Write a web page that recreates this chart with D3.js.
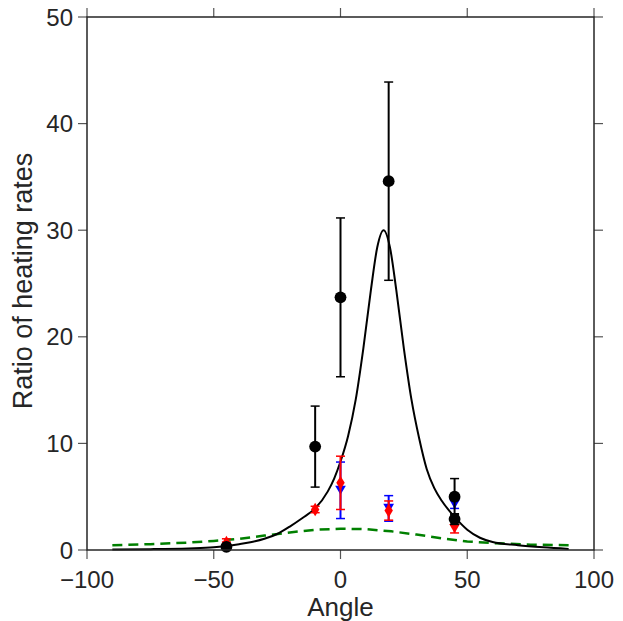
<!DOCTYPE html>
<html>
<head>
<meta charset="utf-8">
<script src="https://cdn.jsdelivr.net/npm/d3@7"></script>
<style>
  body { margin: 0; background: #fff; }
  svg { display: block; }
</style>
</head>
<body>
<div id="chart"></div>
<script>
// Model curve (solid black)
var modelAngle = [-90, -75, -60, -50, -45, -40, -35, -30, -25, -20, -15, -10, -5, -2.5, 0, 3, 6, 9, 12, 14.5, 17,
  19.5, 22, 25, 28, 31, 34, 37, 40, 45, 50, 55, 60, 70, 80, 90]
var modelRatio = [0.05, 0.08, 0.15, 0.25, 0.38, 0.55, 0.75, 1.05, 1.5, 2.2, 3.0, 3.9, 5.5, 6.7, 8.3, 10.7, 14.1, 18.9, 24.4, 28.4, 30,
  28.4, 24.4, 18.9, 14.1, 10.5, 7.6, 5.8, 4.6, 3.1, 1.9, 1.15, 0.75, 0.45, 0.25, 0.1]

// Second curve (green dashed)
var altAngle = [-90, -75, -60, -50, -40, -30, -20, -10, 0, 10, 20, 30, 40, 50, 60, 75, 90]
var altRatio = [0.45, 0.55, 0.7, 0.85, 1.05, 1.35, 1.65, 1.9, 2.0, 1.95, 1.75, 1.45, 1.1, 0.8, 0.65, 0.5, 0.45]

// Measurements
var blackAngle = [-45, -10, 0, 19, 45, 45]
var blackRatio = [0.3, 9.7, 23.7, 34.6, 5.0, 2.9]
var blackErr = [0.1, 3.8, 7.45, 9.3, 1.7, 0.5]

var blueAngle = [0, 19, 45]
var blueRatio = [5.6, 3.9, 4.3]
var blueErr = [2.65, 1.2, 0.4]

var redDiamondAngle = [-10, 0, 19]
var redDiamondRatio = [3.8, 6.3, 3.7]
var redDiamondErr = [0.3, 2.5, 0.9]

var redUpAngle = [-45]
var redUpRatio = [0.9]
var redUpErr = [0.15]

var redDownAngle = [45]
var redDownRatio = [2.0]
var redDownErr = [0.4]

var xTicks = [-100, -50, 0, 50, 100]
var yTicks = [0, 10, 20, 30, 40, 50]

// Layout
var width = 623, height = 621
var margin = {left: 87, right: 29, top: 17, bottom: 71}
var font = 'Liberation Sans, Arial, sans-serif'

var svg = d3.select('#chart').append('svg')
  .attr('width', width)
  .attr('height', height)

var x = d3.scaleLinear().domain([-100, 100]).range([margin.left, width - margin.right])
var y = d3.scaleLinear().domain([0, 50]).range([height - margin.bottom, margin.top])

// Lines
var line = d3.line().x(function(d){ return x(d[0]) }).y(function(d){ return y(d[1]) })

svg.append('path')
  .attr('d', line.curve(d3.curveLinear)(d3.zip(altAngle, altRatio)))
  .attr('fill', 'none')
  .attr('stroke', '#008000')
  .attr('stroke-width', 2.5)
  .attr('stroke-dasharray', '10,6')

svg.append('path')
  .attr('d', line.curve(d3.curveMonotoneX)(d3.zip(modelAngle, modelRatio)))
  .attr('fill', 'none')
  .attr('stroke', '#000')
  .attr('stroke-width', 2)

// Error bars + markers
function drawSeries(angles, ratios, errs, color, symbol, size) {
  var data = d3.zip(angles, ratios, errs)
  var g = svg.append('g')
  data.forEach(function(d){
    var px = x(d[0])
    g.append('line')
      .attr('x1', px).attr('x2', px)
      .attr('y1', y(d[1] - d[2])).attr('y2', y(d[1] + d[2]))
      .attr('stroke', color).attr('stroke-width', 2)
    ;[d[1] - d[2], d[1] + d[2]].forEach(function(v){
      g.append('line')
        .attr('x1', px - 4.5).attr('x2', px + 4.5)
        .attr('y1', y(v)).attr('y2', y(v))
        .attr('stroke', color).attr('stroke-width', 1.5)
    })
  })
  data.forEach(function(d){
    g.append('path')
      .attr('d', d3.symbol().type(symbol).size(size)())
      .attr('transform', 'translate(' + x(d[0]) + ',' + y(d[1]) + ')')
      .attr('fill', color)
  })
}

var triDown = {draw: function(ctx, s){
  var r = Math.sqrt(s) / 2
  ctx.moveTo(-r, -r * 0.85); ctx.lineTo(r, -r * 0.85); ctx.lineTo(0, r * 0.85); ctx.closePath()
}}
var triUp = {draw: function(ctx, s){
  var r = Math.sqrt(s) / 2
  ctx.moveTo(-r, r * 0.85); ctx.lineTo(r, r * 0.85); ctx.lineTo(0, -r * 0.85); ctx.closePath()
}}
var thinDiamond = {draw: function(ctx, s){
  var r = Math.sqrt(s) / 2
  ctx.moveTo(0, -r * 1.3); ctx.lineTo(r * 0.8, 0); ctx.lineTo(0, r * 1.3); ctx.lineTo(-r * 0.8, 0); ctx.closePath()
}}

drawSeries(blueAngle, blueRatio, blueErr, '#0000ff', triDown, 115)
drawSeries(redDiamondAngle, redDiamondRatio, redDiamondErr, '#ff0000', thinDiamond, 110)
drawSeries(redUpAngle, redUpRatio, redUpErr, '#ff0000', triUp, 115)
drawSeries(redDownAngle, redDownRatio, redDownErr, '#ff0000', triDown, 115)
drawSeries(blackAngle, blackRatio, blackErr, '#000000', d3.symbolCircle, 110)

// Axes (ticks outward on all four sides)
var tickLen = 9
var axes = svg.append('g')
xTicks.forEach(function(t){
  axes.append('line').attr('x1', x(t)).attr('x2', x(t))
    .attr('y1', y(0)).attr('y2', y(0) + tickLen)
    .attr('stroke', '#555').attr('stroke-width', 1.2)
  axes.append('line').attr('x1', x(t)).attr('x2', x(t))
    .attr('y1', y(50)).attr('y2', y(50) - tickLen)
    .attr('stroke', '#555').attr('stroke-width', 1.2)
  axes.append('text')
    .attr('x', x(t)).attr('y', y(0) + 37.5)
    .attr('text-anchor', 'middle')
    .attr('font-family', font).attr('font-size', 24)
    .attr('fill', '#262626')
    .text(t < 0 ? '\u2212' + Math.abs(t) : t)
})
yTicks.forEach(function(t){
  axes.append('line').attr('x1', x(-100)).attr('x2', x(-100) - tickLen)
    .attr('y1', y(t)).attr('y2', y(t))
    .attr('stroke', '#555').attr('stroke-width', 1.2)
  axes.append('line').attr('x1', x(100)).attr('x2', x(100) + tickLen)
    .attr('y1', y(t)).attr('y2', y(t))
    .attr('stroke', '#555').attr('stroke-width', 1.2)
  axes.append('text')
    .attr('x', x(-100) - 14).attr('y', y(t) + 8.6)
    .attr('text-anchor', 'end')
    .attr('font-family', font).attr('font-size', 24)
    .attr('fill', '#262626')
    .text(t)
})

svg.append('rect')
  .attr('x', x(-100)).attr('y', y(50))
  .attr('width', x(100) - x(-100)).attr('height', y(0) - y(50))
  .attr('fill', 'none')
  .attr('stroke', '#262626').attr('stroke-width', 1.5)

// Axis labels
svg.append('text')
  .attr('x', (x(-100) + x(100)) / 2).attr('y', 615.5)
  .attr('text-anchor', 'middle')
  .attr('font-family', font).attr('font-size', 26)
  .attr('fill', '#262626')
  .text('Angle')

svg.append('text')
  .attr('transform', 'translate(32,281) rotate(-90)')
  .attr('text-anchor', 'middle')
  .attr('font-family', font).attr('font-size', 27)
  .attr('fill', '#262626')
  .text('Ratio of heating rates')
</script>
</body>
</html>
